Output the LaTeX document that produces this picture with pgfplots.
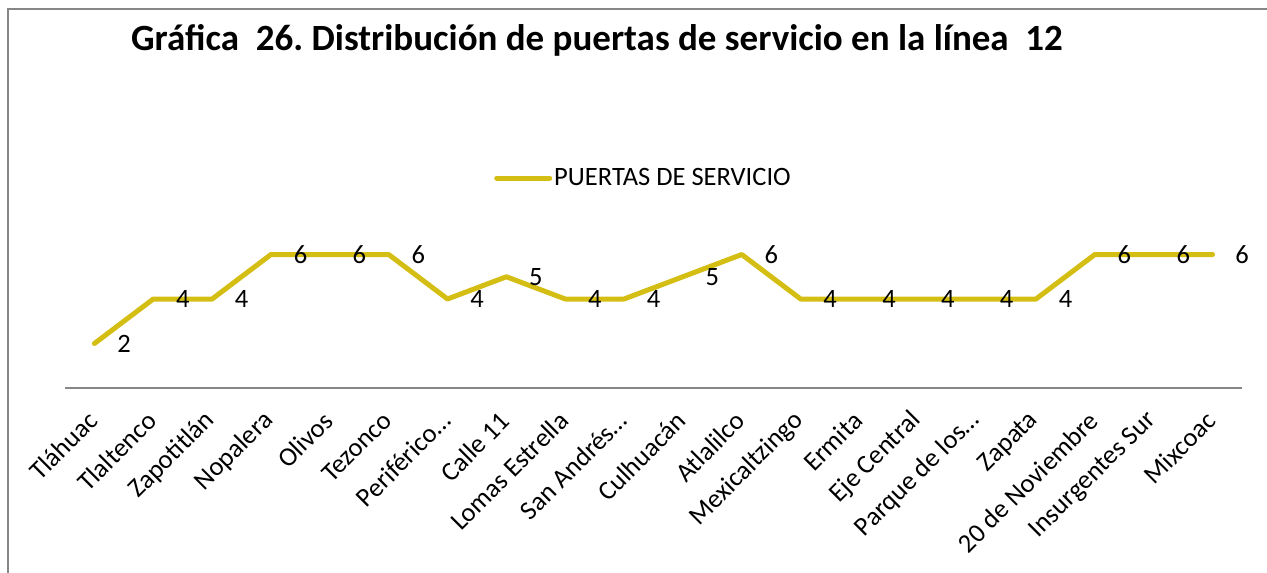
\documentclass[border=0pt]{standalone}
\usepackage{fontspec}
\setmainfont{Carlito}
\usepackage{pgfplots}
\pgfplotsset{compat=1.18}
\definecolor{linea}{RGB}{212,190,20}
\definecolor{marco}{RGB}{134,134,134}
\frenchspacing

\begin{document}
\begin{tikzpicture}[x=1pt,y=1pt]
\useasboundingbox (0,0) rectangle (1267,573);
\draw[marco, line width=1.5pt] (8,0) -- (8,564) -- (1267,564);
\node[font=\fontsize{37}{42}\selectfont\bfseries] at (597,533)
  {Gráfica\ \ 26.\ Distribución de puertas de servicio en la línea\ \ 12};
\begin{axis}[
    at={(65pt,185pt)}, anchor=south west,
    scale only axis,
    width=1177pt, height=155.75pt,
    xmin=-0.5, xmax=19.5,
    ymin=0, ymax=7,
    axis x line=bottom,
    axis y line=none,
    x axis line style={marco, line width=1.5pt, -},
    major tick length=0pt,
    ytick=\empty,
    xtick={0,...,19},
    xticklabels={Tláhuac, Tlaltenco, Zapotitlán, Nopalera, Olivos, Tezonco,
      Periférico…, Calle 11, Lomas Estrella, San Andrés…, Culhuacán, Atlalilco,
      Mexicaltzingo, Ermita, Eje Central, Parque de los…, Zapata,
      20 de Noviembre, Insurgentes Sur, Mixcoac},
    xticklabel shift=27pt,
    xticklabel style={rotate=45, anchor=east, font=\fontsize{26.5}{30}\selectfont,
      inner sep=2pt},
    /pgf/number format/assume math mode=true,
    nodes near coords,
    every node near coord/.append style={anchor=west, xshift=17pt,
      font=\fontsize{26.5}{30}\selectfont, black},
    legend style={at={(0.4915,1.348)}, anchor=center, draw=none, fill=none,
      font=\fontsize{26.5}{30}\selectfont},
    legend image code/.code={\draw[linea, line width=5pt, line cap=round]
      (0pt,0pt) -- (53pt,0pt);},
]
\addplot[linea, line width=5pt, line cap=round, line join=round] coordinates {
  (0,2) (1,4) (2,4) (3,6) (4,6) (5,6) (6,4) (7,5) (8,4) (9,4)
  (10,5) (11,6) (12,4) (13,4) (14,4) (15,4) (16,4) (17,6) (18,6) (19,6)
};
\addlegendentry{PUERTAS DE SERVICIO}
\end{axis}
\end{tikzpicture}
\end{document}
